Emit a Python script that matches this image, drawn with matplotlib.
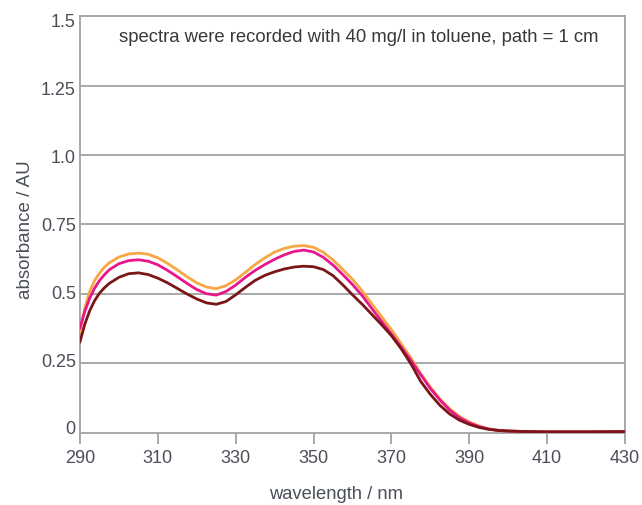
import numpy as np
import matplotlib
matplotlib.use("Agg")
import matplotlib.pyplot as plt
import matplotlib.transforms as mtransforms

plt.rcParams['font.family'] = ['Liberation Sans', 'DejaVu Sans']

# wavelength grid (nm) and absorbance
wavelength = [290, 291.25, 292.5, 293.75, 295, 296.25, 297.5, 300, 302.5, 305,
              307.5, 310, 312.5, 315, 317.5, 320, 322.5, 325, 327.5, 330,
              332.5, 335, 337.5, 340, 342.5, 345, 347.5, 350, 352.5, 355,
              357.5, 360, 362.5, 365, 367.5, 370, 372.5, 375, 377.5, 380,
              382.5, 385, 387.5, 390, 392.5, 395, 397.5, 400, 405, 410, 420, 430]

orange = [0.365, 0.450, 0.510, 0.548, 0.575, 0.596, 0.612, 0.633, 0.644, 0.647,
          0.643, 0.630, 0.610, 0.587, 0.562, 0.540, 0.525, 0.519, 0.530, 0.551,
          0.578, 0.606, 0.630, 0.651, 0.664, 0.672, 0.674, 0.668, 0.650, 0.622,
          0.588, 0.553, 0.511, 0.464, 0.418, 0.372, 0.321, 0.270, 0.215, 0.165,
          0.122, 0.087, 0.059, 0.040, 0.025, 0.015, 0.010, 0.007, 0.005, 0.004,
          0.004, 0.005]

magenta = [0.378, 0.438, 0.485, 0.521, 0.548, 0.569, 0.587, 0.609, 0.620, 0.623,
           0.618, 0.605, 0.585, 0.562, 0.538, 0.516, 0.501, 0.496, 0.509, 0.532,
           0.560, 0.585, 0.606, 0.625, 0.641, 0.653, 0.658, 0.651, 0.632, 0.604,
           0.570, 0.534, 0.494, 0.447, 0.401, 0.356, 0.309, 0.261, 0.210, 0.160,
           0.118, 0.082, 0.055, 0.036, 0.023, 0.014, 0.009, 0.007, 0.005, 0.004,
           0.004, 0.005]

darkred = [0.328, 0.392, 0.440, 0.476, 0.503, 0.522, 0.538, 0.560, 0.573, 0.576,
           0.570, 0.557, 0.540, 0.520, 0.500, 0.482, 0.468, 0.463, 0.473, 0.497,
           0.524, 0.549, 0.567, 0.580, 0.590, 0.597, 0.600, 0.598, 0.588, 0.566,
           0.533, 0.497, 0.463, 0.426, 0.389, 0.350, 0.303, 0.249, 0.186, 0.139,
           0.099, 0.068, 0.046, 0.031, 0.020, 0.013, 0.009, 0.007, 0.005, 0.004,
           0.004, 0.005]

xticks = [290, 310, 330, 350, 370, 390, 410, 430]
yticks = [0, 0.25, 0.5, 0.75, 1.0, 1.25, 1.5]
ytick_labels = ["0", "0.25", "0.5", "0.75", "1.0", "1.25", "1.5"]

grid_col = '#a8a8a8'
text_col = '#4a4f58'

fig = plt.figure(figsize=(6.42, 5.05), dpi=100)
ax = fig.add_axes([0.1246, 0.1426, 0.8489, 0.8257])

for y in yticks[1:]:
    ax.axhline(y, color=grid_col, lw=1.4, zorder=1)

ax.plot(wavelength, orange, color='#f7a743', lw=2.0, zorder=3)
ax.plot(wavelength, magenta, color='#e8168c', lw=2.0, zorder=4)
ax.plot(wavelength, darkred, color='#7a1518', lw=2.0, zorder=5)

ax.set_xlim(290, 430)
ax.set_ylim(0, 1.5)
for side in ['left', 'bottom', 'right', 'top']:
    ax.spines[side].set_color(grid_col)
    ax.spines[side].set_linewidth(1.4)

ax.set_xticks(xticks)
ax.set_xticklabels([str(t) for t in xticks])
ax.tick_params(axis='x', direction='out', length=8, width=1.4, color=grid_col,
               labelsize=13, labelcolor=text_col, pad=4)
ax.set_yticks(yticks)
ax.set_yticklabels(ytick_labels)
ax.tick_params(axis='y', length=0, labelsize=13, labelcolor=text_col, pad=3)
# y labels in the original sit slightly above the line at the bottom, slightly below at the top
for v, lab in zip(yticks, ax.get_yticklabels()):
    dy = (5 - 9.5 * v / 1.5) / 100
    lab.set_transform(lab.get_transform() + mtransforms.ScaledTranslation(0, dy, fig.dpi_scale_trans))

ax.set_xlabel("wavelength / nm", fontsize=13.2, color=text_col, labelpad=14, x=0.47)
ax.set_ylabel("absorbance / AU", fontsize=13.5, color=text_col, labelpad=5, y=0.487)

ax.text(0.072, 0.948, "spectra were recorded with 40 mg/l in toluene, path = 1 cm",
        transform=ax.transAxes, fontsize=13.3, color='#383838', va='center')

fig.savefig("out.png", dpi=100)
